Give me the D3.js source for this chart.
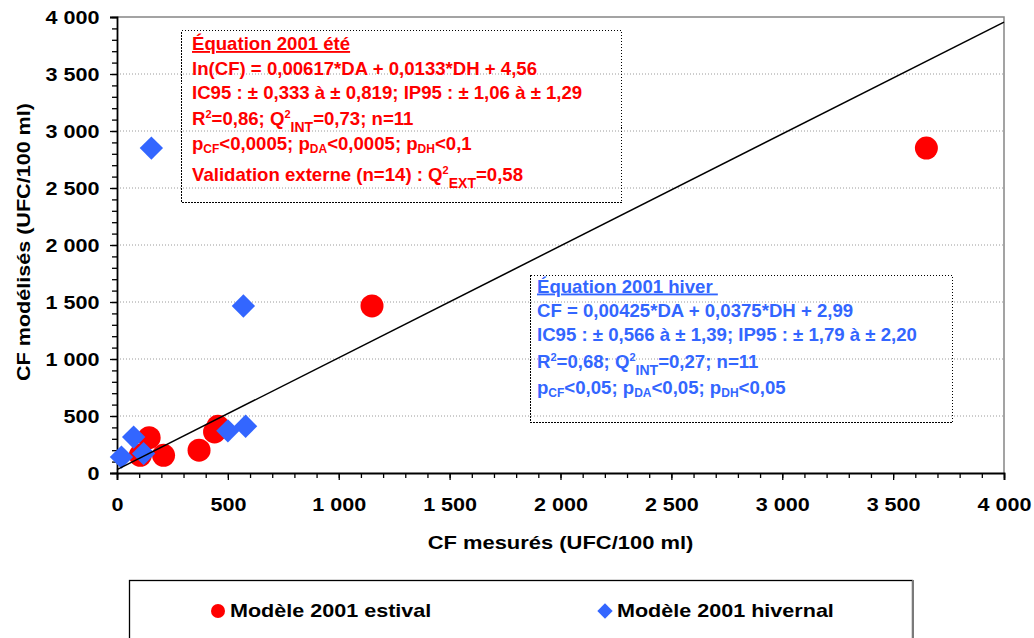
<!DOCTYPE html>
<html>
<head>
<meta charset="utf-8">
<script src="https://cdn.jsdelivr.net/npm/d3@7"></script>
<style>
  body { margin: 0; background: #fff; }
  svg { display: block; font-family: 'Liberation Sans', Arial, sans-serif; font-weight: bold; }
</style>
</head>
<body>
<script>
const estivalX = [3650, 1150, 145, 105, 210, 370, 440, 455];
const estivalY = [2850, 1465, 310, 155, 155, 200, 360, 410];
const hivernalX = [155, 570, 75, 20, 120, 500, 580];
const hivernalY = [2850, 1465, 315, 140, 170, 370, 410];
const lineX = [0, 4000];
const lineY = [30, 3955];
const majorTicks = [0, 500, 1000, 1500, 2000, 2500, 3000, 3500, 4000];
const seriesNames = ['Modèle 2001 estival', 'Modèle 2001 hivernal'];
const xTitle = 'CF mesurés (UFC/100 ml)';
const yTitle = 'CF modélisés (UFC/100 ml)';

// equation boxes: [text, kind]
const eteLines = [
  [['Équation 2001 été', 'title']],
  [['ln(CF) = 0,00617*DA + 0,0133*DH + 4,56']],
  [['IC95 : ± 0,333 à ± 0,819; IP95 : ± 1,06 à ± 1,29']],
  [['R'], ['2', 'sup'], ['=0,86; Q'], ['2', 'sup'], ['INT', 'subBig'], ['=0,73; n=11']],
  [['p'], ['CF', 'sub'], ['<0,0005; p'], ['DA', 'sub'], ['<0,0005; p'], ['DH', 'sub'], ['<0,1']],
  [['Validation externe (n=14) : Q'], ['2', 'sup'], ['EXT', 'subBig'], ['=0,58']]
];
const hiverLines = [
  [['Équation 2001 hiver ', 'title']],
  [['CF = 0,00425*DA + 0,0375*DH + 2,99']],
  [['IC95 : ± 0,566 à ± 1,39; IP95 : ± 1,79 à ± 2,20']],
  [['R'], ['2', 'sup'], ['=0,68; Q'], ['2', 'sup'], ['INT', 'subBig'], ['=0,27; n=11']],
  [['p'], ['CF', 'sub'], ['<0,05; p'], ['DA', 'sub'], ['<0,05; p'], ['DH', 'sub'], ['<0,05']]
];

const width = 1034;
const height = 638;
const red = '#ff0000';
const blue = '#3366ff';
const stretch = 1.16;

const fr = d3.formatLocale({ decimal: ',', thousands: ' ', grouping: [3], currency: ['', ''] });
const fmt = fr.format(',d');

const x = d3.scaleLinear().domain([0, 4000]).range([117, 1004]);
const y = d3.scaleLinear().domain([0, 4000]).range([473, 17]);

const svg = d3.select('body').append('svg')
  .attr('width', width)
  .attr('height', height);

// grid
svg.append('g')
  .selectAll('line')
  .data(majorTicks.filter(d => d > 0 && d < 4000))
  .enter().append('line')
  .attr('x1', x(0)).attr('x2', x(4000))
  .attr('y1', d => y(d)).attr('y2', d => y(d))
  .attr('stroke', '#9a9a9a')
  .attr('stroke-dasharray', '1,2');

// plot border top/right
svg.append('path')
  .attr('d', `M${x(0)},${y(4000)}H${x(4000)}V${y(0)}`)
  .attr('fill', 'none')
  .attr('stroke', '#858585')
  .attr('stroke-width', 1.5);

// equation boxes
const drawBox = (lines, color, bx, by, bw, bh, tx, baselines) => {
  svg.append('rect')
    .attr('x', bx).attr('y', by).attr('width', bw).attr('height', bh)
    .attr('fill', 'none')
    .attr('stroke', '#000')
    .attr('stroke-width', 1)
    .attr('stroke-dasharray', '1.5,1.5')
    .attr('shape-rendering', 'crispEdges');

  lines.forEach((segs, i) => {
    const t = svg.append('text')
      .attr('x', tx)
      .attr('y', baselines[i])
      .attr('fill', color)
      .style('font-size', '18.6px')
      .style('white-space', 'pre');
    let shift = 0;
    segs.forEach(([txt, kind]) => {
      let target = 0, size = 18.6;
      if (kind === 'sup') { target = -7; size = 11; }
      if (kind === 'sub') { target = 3; size = 12; }
      if (kind === 'subBig') { target = 7; size = 14; }
      const ts = t.append('tspan')
        .attr('dy', target - shift)
        .style('font-size', size + 'px')
        .text(txt);
      if (kind === 'title') ts.style('text-decoration', 'underline');
      shift = target;
    });
  });
};

drawBox(eteLines, red, 181.5, 30.5, 440, 172, 192, [50, 74.5, 98.5, 125, 150, 181]);
drawBox(hiverLines, blue, 530.5, 275.5, 422, 147, 537, [292.5, 316.5, 341, 367.5, 393.5]);

// axes
const yAxis = d3.axisLeft(y).tickValues(majorTicks).tickSize(7).tickFormat(fmt);
const yMinor = d3.axisLeft(y).tickValues(d3.range(0, 4001, 100)).tickSize(5).tickFormat('');
const xAxis = d3.axisBottom(x).tickValues(majorTicks).tickSize(7).tickFormat(fmt);
const xMinor = d3.axisBottom(x).tickValues(d3.range(0, 4001, 100)).tickSize(5).tickFormat('');

svg.append('g').attr('transform', `translate(${x(0)},0)`).call(yMinor)
  .call(g => g.select('.domain').remove());
svg.append('g').attr('transform', `translate(0,${y(0)})`).call(xMinor)
  .call(g => g.select('.domain').remove());

const gy = svg.append('g')
  .attr('transform', `translate(${x(0)},0)`)
  .call(yAxis);
const gx = svg.append('g')
  .attr('transform', `translate(0,${y(0)})`)
  .call(xAxis);

svg.selectAll('.tick line').attr('stroke', '#000').attr('stroke-width', 1.3);
[gx, gy].forEach(g => g.select('.domain').attr('stroke', '#000').attr('stroke-width', 1.8));

gy.selectAll('text')
  .attr('x', null).attr('dy', null)
  .attr('text-anchor', 'end')
  .attr('dominant-baseline', 'central')
  .attr('transform', `translate(-17.5,0) scale(${stretch},1)`)
  .style('font-family', 'Liberation Sans, Arial, sans-serif')
  .style('font-weight', 'bold')
  .style('font-size', '18.6px')
  .attr('fill', '#000');

gx.selectAll('text')
  .attr('y', null).attr('dy', null)
  .attr('text-anchor', 'middle')
  .attr('dominant-baseline', 'central')
  .attr('transform', `translate(0,32) scale(${stretch},1)`)
  .style('font-family', 'Liberation Sans, Arial, sans-serif')
  .style('font-weight', 'bold')
  .style('font-size', '18.6px')
  .attr('fill', '#000');

// axis titles
svg.append('text')
  .attr('text-anchor', 'middle')
  .attr('dominant-baseline', 'central')
  .attr('transform', `translate(${(x(0) + x(4000)) / 2},543) scale(1.18,1)`)
  .style('font-size', '18.6px')
  .text(xTitle);

svg.append('text')
  .attr('text-anchor', 'middle')
  .attr('dominant-baseline', 'central')
  .attr('transform', `translate(24,242) rotate(-90) scale(${stretch},1)`)
  .style('font-size', '18.6px')
  .text(yTitle);

// points
const circles = estivalX.map((v, i) => [v, estivalY[i]]);
const diamonds = hivernalX.map((v, i) => [v, hivernalY[i]]);
const diamond = d3.symbol().type(d3.symbolSquare).size(272);

svg.append('g')
  .selectAll('circle')
  .data(circles)
  .enter().append('circle')
  .attr('cx', d => x(d[0]))
  .attr('cy', d => y(d[1]))
  .attr('r', 11.5)
  .attr('fill', red);

svg.append('g')
  .selectAll('path')
  .data(diamonds)
  .enter().append('path')
  .attr('d', diamond)
  .attr('transform', d => `translate(${x(d[0])},${y(d[1])}) rotate(45)`)
  .attr('fill', blue);

// reference line
svg.append('line')
  .attr('x1', x(lineX[0])).attr('y1', y(lineY[0]))
  .attr('x2', x(lineX[1])).attr('y2', y(lineY[1]))
  .attr('stroke', '#000')
  .attr('stroke-width', 1.5);

// legend
svg.append('rect')
  .attr('x', 129.5).attr('y', 580.5)
  .attr('width', 783).attr('height', 90)
  .attr('fill', '#fff')
  .attr('stroke', '#000')
  .attr('stroke-width', 1.3);
svg.append('line')
  .attr('x1', 913).attr('x2', 913).attr('y1', 580).attr('y2', 638)
  .attr('stroke', '#7a7a7a').attr('stroke-width', 2);

svg.append('circle')
  .attr('cx', 218).attr('cy', 611).attr('r', 7)
  .attr('fill', red);
svg.append('path')
  .attr('d', d3.symbol().type(d3.symbolSquare).size(118)())
  .attr('transform', 'translate(605,611) rotate(45)')
  .attr('fill', blue);

[[230, seriesNames[0]], [617, seriesNames[1]]].forEach(([lx, name]) => {
  svg.append('text')
    .attr('text-anchor', 'start')
    .attr('dominant-baseline', 'central')
    .attr('transform', `translate(${lx},611) scale(${stretch},1)`)
    .style('font-size', '18.6px')
    .text(name);
});
</script>
</body>
</html>
